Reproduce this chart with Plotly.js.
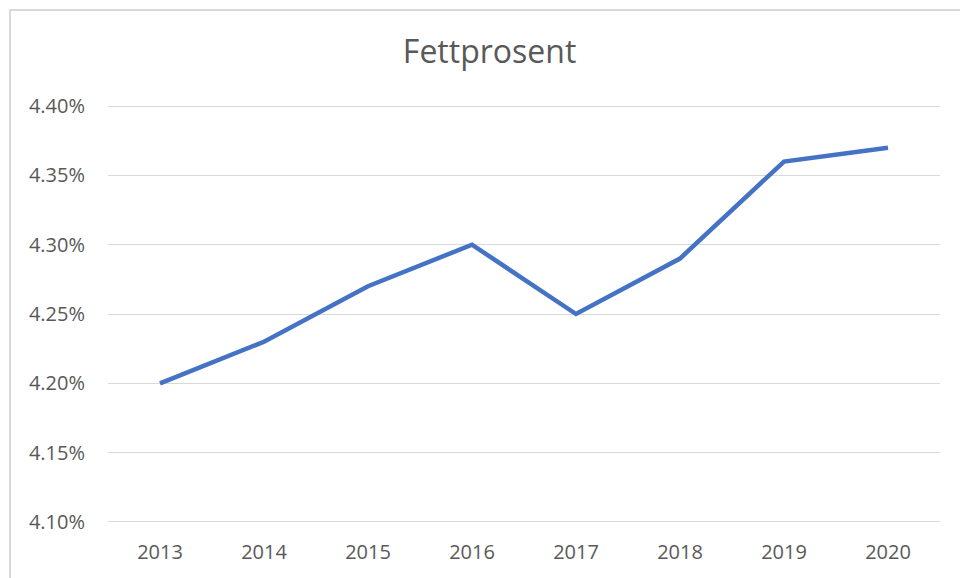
<!DOCTYPE html>
<html>
<head>
<meta charset="utf-8">
<script src="https://cdn.plot.ly/plotly-3.0.1.min.js"></script>
<style>
  body { margin: 0; overflow: hidden; background: #fff; }
  #frame { position: absolute; left: 9px; top: 9px; width: 1000px; height: 620px; border: 2px solid #d9d9d9; }
  #chart-fett { position: absolute; left: 0; top: 0; width: 960px; height: 578px; }
</style>
</head>
<body>
<div id="frame"></div>
<div id="chart-fett"></div>
<script>
//data
var years = ["2013", "2014", "2015", "2016", "2017", "2018", "2019", "2020"];
var fett = [4.20, 4.23, 4.27, 4.30, 4.25, 4.29, 4.36, 4.37];
var yTicks = [4.10, 4.15, 4.20, 4.25, 4.30, 4.35, 4.40];
var yLabels = yTicks.map(function(v){ return v.toFixed(2) + '%'; });

var trace = {
    x: years,
    y: fett,
    type: 'scatter',
    mode: 'lines',
    line: {
        width: 4.5,
        color: '#4472C4'
    },
    hoverinfo: 'skip'
};

//range padded a couple of px so the 4.10 / 4.40 gridlines are drawn
var layout = {
    width: 960,
    height: 578,
    paper_bgcolor: 'rgba(0,0,0,0)',
    plot_bgcolor: 'rgba(0,0,0,0)',
    margin: {l: 108, r: 20, t: 104, b: 54},
    font: {family: 'Open Sans, sans-serif', color: '#595959'},
    title: {
        text: 'Fettprosent',
        font: {size: 32, color: '#595959'},
        xref: 'container',
        x: 0.51,
        xanchor: 'center',
        yref: 'container',
        y: 1 - 52 / 578,
        yanchor: 'middle'
    },
    xaxis: {
        type: 'category',
        range: [-0.5, 7.5],
        showgrid: false,
        zeroline: false,
        showline: false,
        ticks: '',
        tickfont: {size: 20, color: '#595959'},
        ticklabelstandoff: 14,
        fixedrange: true
    },
    yaxis: {
        range: [4.0985, 4.4015],
        tickvals: yTicks,
        ticktext: yLabels,
        showgrid: true,
        gridcolor: '#d9d9d9',
        gridwidth: 1,
        zeroline: false,
        showline: false,
        ticks: '',
        tickfont: {size: 20, color: '#595959'},
        ticklabelstandoff: 22,
        fixedrange: true
    },
    showlegend: false
};

Plotly.newPlot('chart-fett', [trace], layout, {displayModeBar: false, staticPlot: true});
</script>
</body>
</html>
